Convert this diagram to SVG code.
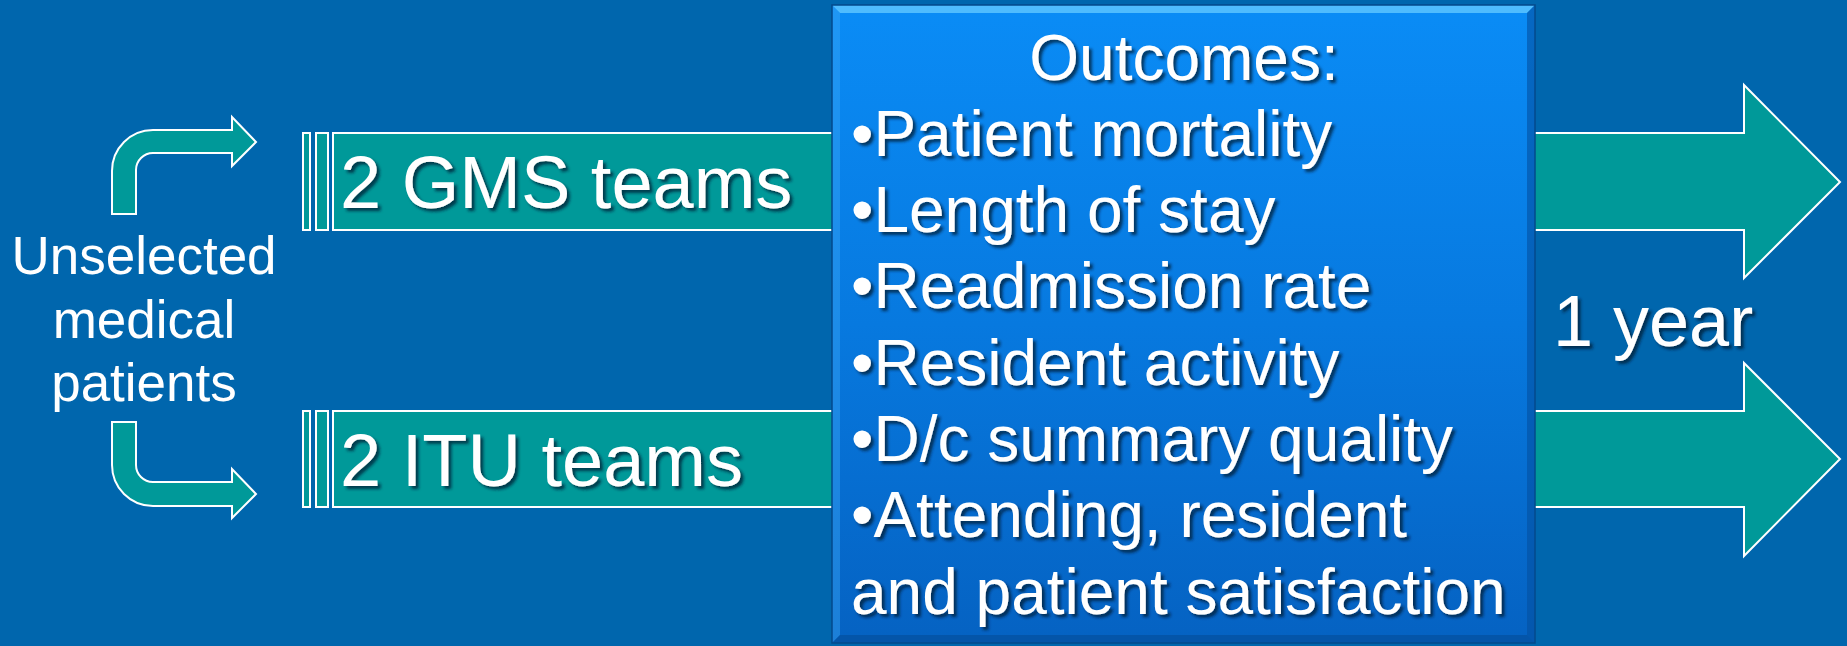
<svg xmlns="http://www.w3.org/2000/svg" width="1847" height="646" viewBox="0 0 1847 646">
  <defs>
    <style>
      .shape { fill: #009999; stroke: #ffffff; stroke-width: 2; stroke-linejoin: miter; }
      .txt { font-family: "Liberation Sans", Arial, sans-serif; fill: #ffffff; }
      .shadowed { filter: url(#textShadow); }
    </style>
    <filter id="textShadow" x="-5%" y="-20%" width="115%" height="150%">
      <feDropShadow dx="3" dy="3" stdDeviation="1.8" flood-color="#001a33" flood-opacity="0.75"/>
    </filter>
    <linearGradient id="boxFill" x1="0" y1="0" x2="0" y2="1">
      <stop offset="0" stop-color="#0a8cf6"/>
      <stop offset="0.5" stop-color="#0779df"/>
      <stop offset="1" stop-color="#0562c2"/>
    </linearGradient>
  </defs>

  <!-- slide background -->
  <rect x="0" y="0" width="1847" height="646" fill="#0066ad"/>

  <!-- connectors: bent arrows and striped team arrows -->
  <g id="connectors">
    <path class="shape" d="M112,214 L112,171 A41,41 0 0 1 153,130 L232,130 L232,117 L256,142 L232,166 L232,153 L153,153 A17,17 0 0 0 136,170 L136,214 Z"/>
    <path class="shape" d="M112,422 L112,465 A41,41 0 0 0 153,506 L232,506 L232,518 L256,494 L232,469 L232,482 L153,482 A17,17 0 0 1 136,465 L136,422 Z"/>

    <rect class="shape" x="303" y="133" width="7" height="97"/>
    <rect class="shape" x="316" y="133" width="12" height="97"/>
    <path class="shape" d="M333,133 L1744,133 L1744,85 L1840,182 L1744,278 L1744,230 L333,230 Z"/>

    <rect class="shape" x="303" y="411" width="7" height="96"/>
    <rect class="shape" x="316" y="411" width="12" height="96"/>
    <path class="shape" d="M333,411 L1744,411 L1744,363 L1840,459 L1744,556 L1744,507 L333,507 Z"/>
  </g>

  <g id="source">
    <text class="txt" font-size="53" text-anchor="middle" x="144" y="274">Unselected</text>
    <text class="txt" font-size="53" text-anchor="middle" x="144" y="338">medical</text>
    <text class="txt" font-size="53" text-anchor="middle" x="144" y="401">patients</text>
  </g>

  <g id="gms-teams">
    <text class="txt shadowed" font-size="74" x="340" y="208">2 GMS teams</text>
  </g>

  <g id="itu-teams">
    <text class="txt shadowed" font-size="74" x="340" y="486">2 ITU teams</text>
  </g>

  <g id="outcomes">
    <rect x="832" y="5" width="703" height="638" fill="url(#boxFill)"/>
    <!-- bevel edges -->
    <polygon points="832,5 1535,5 1527,13 840,13" fill="#5cc4ff" opacity="0.85"/>
    <polygon points="832,5 840,13 840,635 832,643" fill="#3aa3f5" opacity="0.45"/>
    <polygon points="1535,5 1535,643 1527,635 1527,13" fill="#0350a0" opacity="0.6"/>
    <polygon points="832,643 1535,643 1527,635 840,635" fill="#034c98" opacity="0.6"/>
    <rect x="832" y="5" width="703" height="638" fill="none" stroke="#034a8c" stroke-width="1.5"/>
    <g class="txt shadowed" font-size="64">
      <text x="1184" y="80" text-anchor="middle">Outcomes:</text>
      <text x="851" y="156">•Patient mortality</text>
      <text x="851" y="232">•Length of stay</text>
      <text x="851" y="308">•Readmission rate</text>
      <text x="851" y="385">•Resident activity</text>
      <text x="851" y="461">•D/c summary quality</text>
      <text x="851" y="537">•Attending, resident</text>
      <text x="851" y="614">and patient satisfaction</text>
    </g>
  </g>

  <g id="duration">
    <text class="txt shadowed" font-size="72" x="1553" y="346">1 year</text>
  </g>
</svg>
